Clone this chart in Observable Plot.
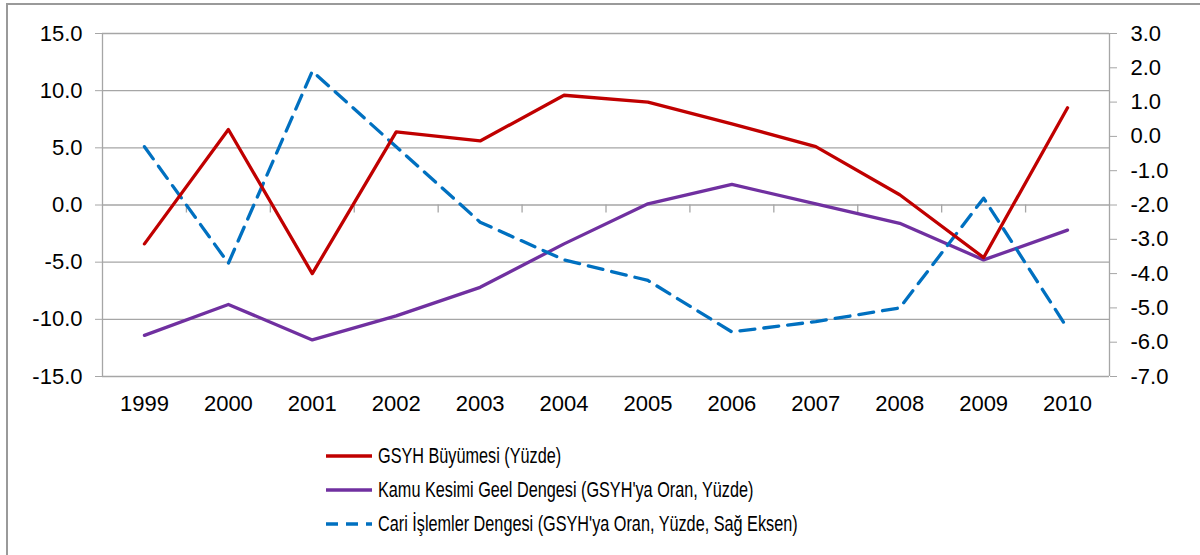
<!DOCTYPE html>
<html><head><meta charset="utf-8">
<script src="https://cdn.jsdelivr.net/npm/d3@7"></script>
<script src="https://cdn.jsdelivr.net/npm/@observablehq/plot@0.6"></script>
<style>
body{margin:0;background:#fff;width:1200px;height:555px;overflow:hidden;position:relative;font-family:"Liberation Sans",Arial,sans-serif;}
#frame{position:absolute;left:6px;top:3px;width:1300px;height:700px;border-left:2px solid #9a9a9a;border-top:2px solid #9a9a9a;pointer-events:none}
#chart{position:absolute;left:0;top:0}
#legend{position:absolute;left:326px;top:439px}
.row{display:flex;align-items:center;height:34px;font-size:21.5px;color:#000;white-space:nowrap}
.row svg{margin-right:6px;flex:none}
.row span{display:inline-block;transform:scaleX(0.755);transform-origin:0 50%}
</style></head><body>
<div id="chart"></div><div id="legend"></div><div id="frame"></div>
<script>
const years = [1999, 2000, 2001, 2002, 2003, 2004, 2005, 2006, 2007, 2008, 2009, 2010];
const gdpGrowth = [-3.4, 6.6, -6.0, 6.4, 5.6, 9.6, 9.0, 7.1, 5.1, 0.9, -4.6, 8.5];
const publicBalance = [-11.4, -8.7, -11.8, -9.7, -7.2, -3.4, 0.1, 1.8, 0.1, -1.6, -4.8, -2.2];
const currentAccount = [-0.3, -3.7, 1.9, -0.3, -2.5, -3.6, -4.2, -5.7, -5.4, -5.0, -1.8, -5.6];
const leftTicks = [-15, -10, -5, 0, 5, 10, 15];
const rightTicks = [-7, -6, -5, -4, -3, -2, -1, 0, 1, 2, 3];
const seriesNames = ["GSYH Büyümesi (Yüzde)", "Kamu Kesimi Geel Dengesi (GSYH'ya Oran, Yüzde)", "Cari İşlemler Dengesi (GSYH'ya Oran, Yüzde, Sağ Eksen)"];
const seriesColors = ["#c00000", "#7030a0", "#0070c0"];

const lMin = d3.min(leftTicks), lMax = d3.max(leftTicks);
const rMin = d3.min(rightTicks), rMax = d3.max(rightTicks);
const toLeft = v => (v - rMin) / (rMax - rMin) * (lMax - lMin) + lMin;
const fromLeft = v => (v - lMin) / (lMax - lMin) * (rMax - rMin) + rMin;
const xDomain = [d3.min(years) - 0.5, d3.max(years) + 0.5];
const boundaries = years.slice(1).map(y => y - 0.5);

const rows = (vals, f = v => v) => years.map((yr, i) => ({year: yr, value: f(vals[i])}));
const grid = "#a6a6a6";
const fmt1 = v => (Math.round(v * 10) / 10).toFixed(1);
const dash = "15,9";
const fs = 22;

const chart = Plot.plot({
  width: 1200, height: 430,
  marginLeft: 102, marginRight: 91, marginTop: 33, marginBottom: 54,
  style: {fontFamily: "'Liberation Sans', Arial, sans-serif", fontSize: fs + "px", color: "#000", background: "transparent"},
  x: {type: "linear", domain: xDomain, label: null},
  y: {domain: [lMin, lMax], label: null},
  marks: [
    Plot.ruleY(leftTicks, {stroke: grid, strokeWidth: 1.3}),
    Plot.ruleX(xDomain, {y1: lMin, y2: lMax, stroke: grid, strokeWidth: 1.3}),
    Plot.ruleX(boundaries, {y1: 0, y2: 0, insetBottom: -8, stroke: grid, strokeWidth: 1.3}),
    Plot.axisY(leftTicks, {anchor: "left", label: null, tickSize: 7, tickPadding: 13, stroke: grid, fill: "#000", fontSize: fs, tickFormat: fmt1}),
    Plot.axisY(rightTicks.map(toLeft), {anchor: "right", label: null, tickSize: 7, tickPadding: 14, stroke: grid, fill: "#000", fontSize: fs, tickFormat: d => fmt1(fromLeft(d))}),
    Plot.axisX(years, {label: null, tickSize: 0, tickPadding: 19, fill: "#000", fontSize: fs, tickFormat: d => String(d)}),
    Plot.lineY(rows(publicBalance), {x: "year", y: "value", stroke: seriesColors[1], strokeWidth: 3.3}),
    Plot.lineY(rows(currentAccount, toLeft), {x: "year", y: "value", stroke: seriesColors[2], strokeWidth: 3.3, strokeDasharray: dash}),
    Plot.lineY(rows(gdpGrowth), {x: "year", y: "value", stroke: seriesColors[0], strokeWidth: 3.3})
  ]
});
document.getElementById("chart").appendChild(chart);

const dashes = [null, null, "12,8"];
const legend = document.getElementById("legend");
seriesNames.forEach((name, i) => {
  const row = document.createElement("div");
  row.className = "row";
  row.innerHTML = `<svg width="46" height="6"><line x1="0" y1="3" x2="46" y2="3" stroke="${seriesColors[i]}" stroke-width="3.3" ${dashes[i] ? `stroke-dasharray="${dashes[i]}"` : ""}/></svg><span>${name}</span>`;
  legend.appendChild(row);
});
</script>
</body></html>
